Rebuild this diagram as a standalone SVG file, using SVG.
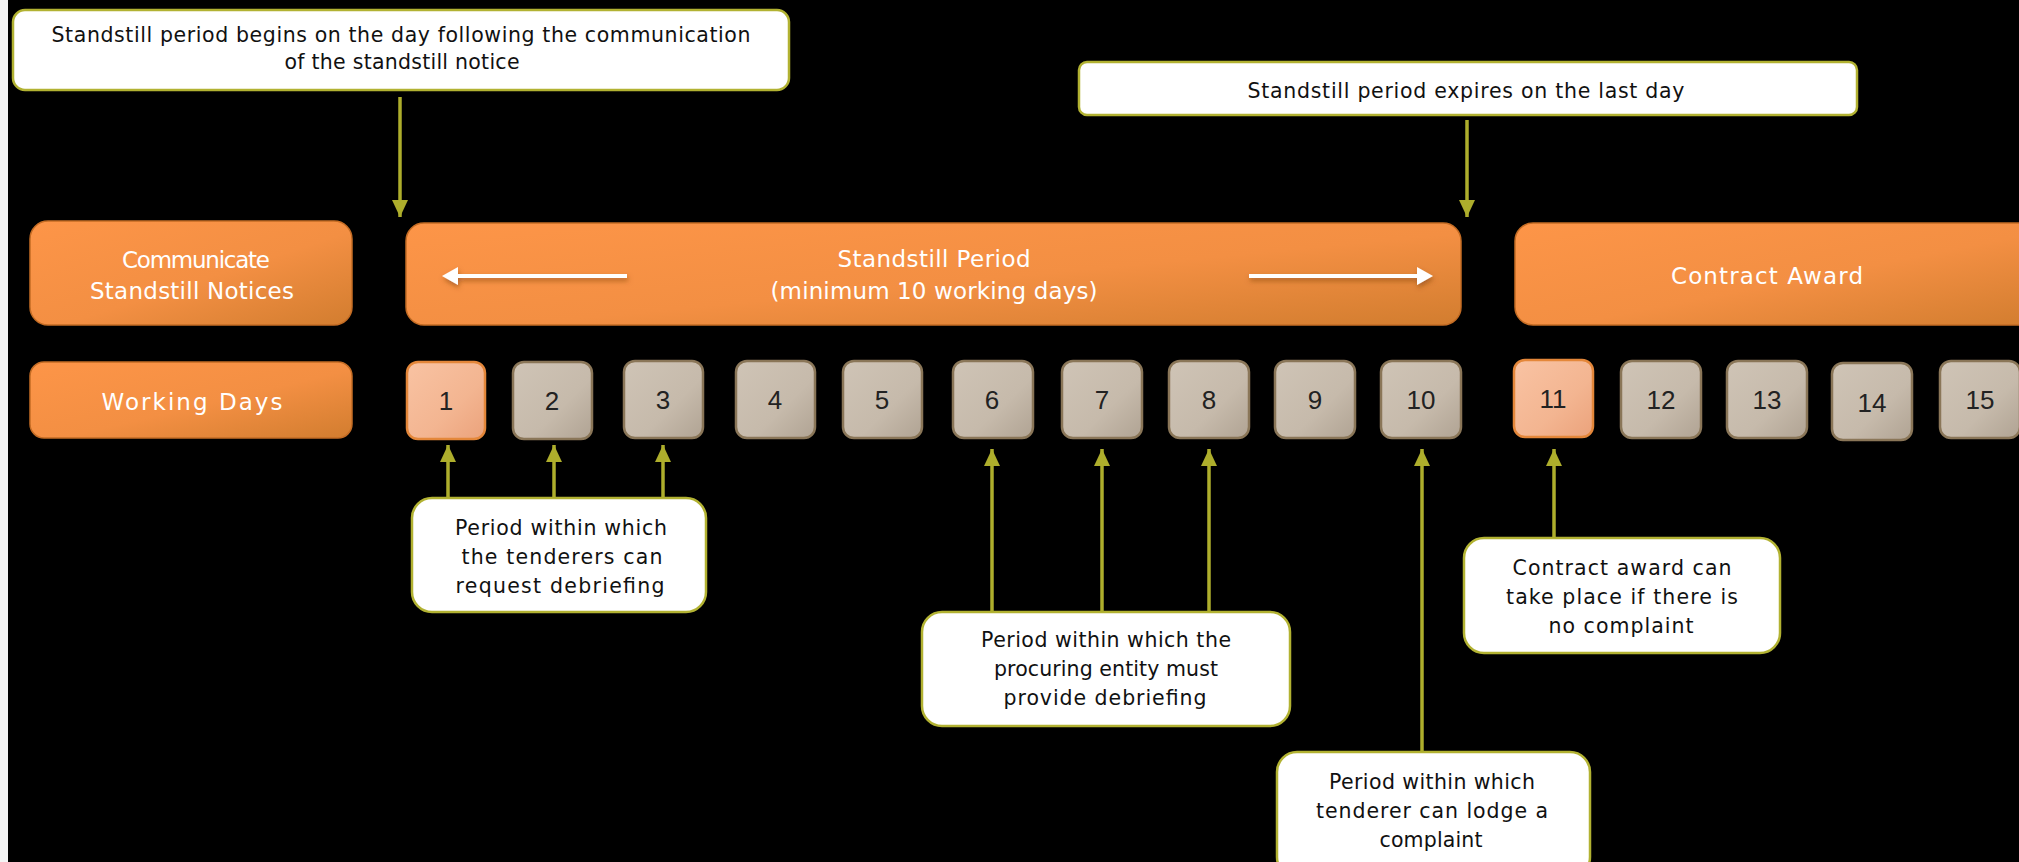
<svg xmlns="http://www.w3.org/2000/svg" width="2019" height="862" viewBox="0 0 2019 862">
<defs>
<linearGradient id="gOrange" x1="0" y1="0" x2="1" y2="1">
<stop offset="0" stop-color="#fd9548"/>
<stop offset="0.55" stop-color="#f38f43"/>
<stop offset="1" stop-color="#d27d2f"/>
</linearGradient>
<linearGradient id="gGray" x1="0" y1="0" x2="1" y2="1">
<stop offset="0" stop-color="#cfc4b6"/>
<stop offset="0.6" stop-color="#c6baab"/>
<stop offset="1" stop-color="#b0a393"/>
</linearGradient>
<linearGradient id="gPink" x1="0" y1="0" x2="1" y2="1">
<stop offset="0" stop-color="#f9c3a3"/>
<stop offset="0.6" stop-color="#f3b591"/>
<stop offset="1" stop-color="#eba27b"/>
</linearGradient>
<marker id="olive" markerUnits="userSpaceOnUse" markerWidth="18" markerHeight="18" viewBox="0 0 18 18" refX="17" refY="9" orient="auto">
<path d="M0,1 L17,9 L0,17 Z" fill="#aeae2c"/>
</marker>
<filter id="sh" filterUnits="userSpaceOnUse" x="0" y="0" width="2019" height="862">
<feDropShadow dx="1" dy="3" stdDeviation="2.5" flood-color="#7a3d10" flood-opacity="0.55"/>
</filter>
</defs>
<style>
.orange{fill:url(#gOrange);stroke:#c46c24;stroke-width:1.5}
.gray{fill:url(#gGray);stroke:#8a7658;stroke-width:2.5}
.pink{fill:url(#gPink);stroke:#e4873a;stroke-width:2.5}
.call{fill:#ffffff;stroke:#b2b232;stroke-width:2.5}
.lbl{font-family:"DejaVu Sans","Liberation Sans",sans-serif;font-size:23px;fill:#ffffff;text-anchor:middle}
.ct{font-family:"DejaVu Sans","Liberation Sans",sans-serif;font-size:20.5px;fill:#111111;text-anchor:middle}
.num{font-family:"Liberation Sans Narrow","Liberation Sans",sans-serif;font-size:26px;fill:#222222;text-anchor:middle}
.conn{stroke:#aeae2c;stroke-width:3.5;fill:none;marker-end:url(#olive)}
.warr{fill:#ffffff;filter:url(#sh)}
</style>
<rect x="0" y="0" width="2019" height="862" fill="#000000"/>
<rect x="0" y="0" width="8" height="862" fill="#f4f4f4"/>

<g id="note-begins">
<rect class="call" x="13" y="10" width="776" height="80" rx="12"/>
<text class="ct" x="401" y="42" textLength="699" lengthAdjust="spacing">Standstill period begins on the day following the communication</text>
<text class="ct" x="402" y="69" textLength="235" lengthAdjust="spacing">of the standstill notice</text>
</g>

<g id="note-expires">
<rect class="call" x="1079" y="62" width="778" height="53" rx="8"/>
<text class="ct" x="1466" y="98" textLength="437" lengthAdjust="spacing">Standstill period expires on the last day</text>
</g>

<g id="communicate">
<rect class="orange" x="30" y="221" width="322" height="104" rx="18"/>
<text class="lbl" x="196" y="268" textLength="148" lengthAdjust="spacing">Communicate</text>
<text class="lbl" x="192" y="299" textLength="204" lengthAdjust="spacing">Standstill Notices</text>
</g>

<g id="standstill-period">
<rect class="orange" x="406" y="223" width="1055" height="102" rx="18"/>
<text class="lbl" x="934" y="267" textLength="193" lengthAdjust="spacing">Standstill Period</text>
<text class="lbl" x="934" y="299" textLength="327" lengthAdjust="spacing">(minimum 10 working days)</text>
<path class="warr" d="M627,274 L458,274 L458,267 L442,276 L458,285 L458,278 L627,278 Z"/>
<path class="warr" d="M1249,274 L1417,274 L1417,267 L1433,276 L1417,285 L1417,278 L1249,278 Z"/>
</g>

<g id="contract-award">
<rect class="orange" x="1515" y="223" width="520" height="102" rx="18"/>
<text class="lbl" x="1767" y="284" textLength="192" lengthAdjust="spacing">Contract Award</text>
</g>

<g id="working-days">
<rect class="orange" x="30" y="362" width="322" height="76" rx="14"/>
<text class="lbl" x="192" y="410" textLength="181" lengthAdjust="spacing">Working Days</text>
</g>

<g id="day-1"><rect class="pink" x="407" y="362" width="78" height="77" rx="11"/><text class="num" x="446" y="410">1</text></g>
<g id="day-2"><rect class="gray" x="513" y="362" width="79" height="77" rx="11"/><text class="num" x="552" y="410">2</text></g>
<g id="day-3"><rect class="gray" x="624" y="361" width="79" height="77" rx="11"/><text class="num" x="663" y="409">3</text></g>
<g id="day-4"><rect class="gray" x="736" y="361" width="79" height="77" rx="11"/><text class="num" x="775" y="409">4</text></g>
<g id="day-5"><rect class="gray" x="843" y="361" width="79" height="77" rx="11"/><text class="num" x="882" y="409">5</text></g>
<g id="day-6"><rect class="gray" x="953" y="361" width="80" height="77" rx="11"/><text class="num" x="992" y="409">6</text></g>
<g id="day-7"><rect class="gray" x="1062" y="361" width="80" height="77" rx="11"/><text class="num" x="1102" y="409">7</text></g>
<g id="day-8"><rect class="gray" x="1169" y="361" width="80" height="77" rx="11"/><text class="num" x="1209" y="409">8</text></g>
<g id="day-9"><rect class="gray" x="1275" y="361" width="80" height="77" rx="11"/><text class="num" x="1315" y="409">9</text></g>
<g id="day-10"><rect class="gray" x="1381" y="361" width="80" height="77" rx="11"/><text class="num" x="1421" y="409">10</text></g>
<g id="day-11"><rect class="pink" x="1514" y="360" width="79" height="77" rx="11"/><text class="num" x="1553" y="408">11</text></g>
<g id="day-12"><rect class="gray" x="1621" y="361" width="80" height="77" rx="11"/><text class="num" x="1661" y="409">12</text></g>
<g id="day-13"><rect class="gray" x="1727" y="361" width="80" height="77" rx="11"/><text class="num" x="1767" y="409">13</text></g>
<g id="day-14"><rect class="gray" x="1832" y="363" width="80" height="77" rx="11"/><text class="num" x="1872" y="412">14</text></g>
<g id="day-15"><rect class="gray" x="1940" y="361" width="80" height="77" rx="11"/><text class="num" x="1980" y="409">15</text></g>

<g id="note-request">
<rect class="call" x="412" y="498" width="294" height="114" rx="20"/>
<text class="ct" x="561" y="535" textLength="212" lengthAdjust="spacing">Period within which</text>
<text class="ct" x="562" y="564" textLength="201" lengthAdjust="spacing">the tenderers can</text>
<text class="ct" x="560" y="593" textLength="209" lengthAdjust="spacing">request debriefing</text>
</g>

<g id="note-provide">
<rect class="call" x="922" y="612" width="368" height="114" rx="20"/>
<text class="ct" x="1106" y="647" textLength="250" lengthAdjust="spacing">Period within which the</text>
<text class="ct" x="1106" y="676" textLength="224" lengthAdjust="spacing">procuring entity must</text>
<text class="ct" x="1105" y="705" textLength="203" lengthAdjust="spacing">provide debriefing</text>
</g>

<g id="note-complaint">
<rect class="call" x="1277" y="752" width="313" height="125" rx="20"/>
<text class="ct" x="1432" y="789" textLength="206" lengthAdjust="spacing">Period within which</text>
<text class="ct" x="1432" y="818" textLength="232" lengthAdjust="spacing">tenderer can lodge a</text>
<text class="ct" x="1431" y="847" textLength="103" lengthAdjust="spacing">complaint</text>
</g>

<g id="note-award">
<rect class="call" x="1464" y="538" width="316" height="115" rx="20"/>
<text class="ct" x="1622" y="575" textLength="219" lengthAdjust="spacing">Contract award can</text>
<text class="ct" x="1622" y="604" textLength="232" lengthAdjust="spacing">take place if there is</text>
<text class="ct" x="1621" y="633" textLength="145" lengthAdjust="spacing">no complaint</text>
</g>

<g id="connectors">
<line class="conn" x1="400" y1="97" x2="400" y2="217"/>
<line class="conn" x1="1467" y1="120" x2="1467" y2="217"/>
<line class="conn" x1="448" y1="498" x2="448" y2="445"/>
<line class="conn" x1="554" y1="498" x2="554" y2="445"/>
<line class="conn" x1="663" y1="498" x2="663" y2="445"/>
<line class="conn" x1="992" y1="612" x2="992" y2="449"/>
<line class="conn" x1="1102" y1="612" x2="1102" y2="449"/>
<line class="conn" x1="1209" y1="612" x2="1209" y2="449"/>
<line class="conn" x1="1422" y1="752" x2="1422" y2="449"/>
<line class="conn" x1="1554" y1="538" x2="1554" y2="449"/>
</g>
</svg>
